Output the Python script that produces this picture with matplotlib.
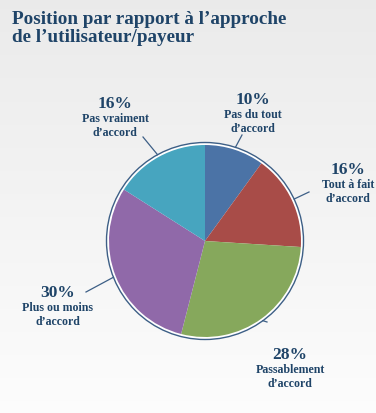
import matplotlib
matplotlib.use("Agg")
import matplotlib.pyplot as plt
import numpy as np

categories = ["Pas du tout\nd\u2019accord", "Tout \u00e0 fait\nd\u2019accord", "Passablement\nd\u2019accord",
              "Plus ou moins\nd\u2019accord", "Pas vraiment\nd\u2019accord"]
values = [10, 16, 28, 30, 16]
colors = ["#4b73a6", "#a84c48", "#86a85c", "#9069a9", "#47a5bf"]
title = "Position par rapport \u00e0 l\u2019approche\nde l\u2019utilisateur/payeur"

W, H = 376, 414
fig = plt.figure(figsize=(W / 100, H / 100), dpi=100)
ax = fig.add_axes([0, 0, 1, 1])

# background gradient
grad = np.linspace(0, 1, 200)
top = np.array([0.92, 0.92, 0.92])
bot = np.array([0.99, 0.99, 0.99])
bg = (top[None, :] + (bot - top)[None, :] * grad[:, None])[:, None, :].repeat(2, axis=1)
ax.imshow(bg, extent=[0, W, 0, H], origin="upper", aspect="auto", zorder=0)

navy = "#1f4468"
serif = ["Liberation Serif", "DejaVu Serif"]

ax.text(12, H - 11, title, ha="left", va="top", fontsize=13.8, fontweight="bold",
        color=navy, family=serif, linespacing=1.08)

cx, cy, R = 205, H - 242, 96
ring = plt.Circle((cx, cy), R + 2.5, facecolor="white", edgecolor="#3d5f86", lw=1.0, zorder=1)
ax.add_patch(ring)
wedges, _ = ax.pie(values, colors=colors, startangle=90, counterclock=False,
                   center=(cx, cy), radius=R, frame=True,
                   wedgeprops=dict(linewidth=0, zorder=2))
ax.set_xlim(0, W)
ax.set_ylim(0, H)
ax.set_aspect("equal")
ax.axis("off")

# label positions (pixels from top-left) and leader line outer ends
label_pos = [(253, 100), (348, 170), (290, 355), (58, 293), (115, 104)]
line_end = [(242, 136), (309, 193), (267, 323), (86, 293), (143, 138)]

for w, v, cat, lp, le in zip(wedges, values, categories, label_pos, line_end):
    ang = np.deg2rad((w.theta1 + w.theta2) / 2)
    ex = cx + (R + 2.5) * np.cos(ang)
    ey = cy + (R + 2.5) * np.sin(ang)
    ax.plot([ex, le[0]], [ey, H - le[1]], color="#3d5f86", lw=0.9, zorder=3)
    ax.text(lp[0], H - lp[1], f"{v}%", ha="center", va="center", fontsize=12.5,
            fontweight="bold", color=navy, family=serif)
    ax.text(lp[0], H - lp[1] - 9, cat, ha="center", va="top", fontsize=8.6,
            fontweight="bold", color=navy, family=serif, linespacing=1.25)

fig.savefig("out.png", dpi=100)
